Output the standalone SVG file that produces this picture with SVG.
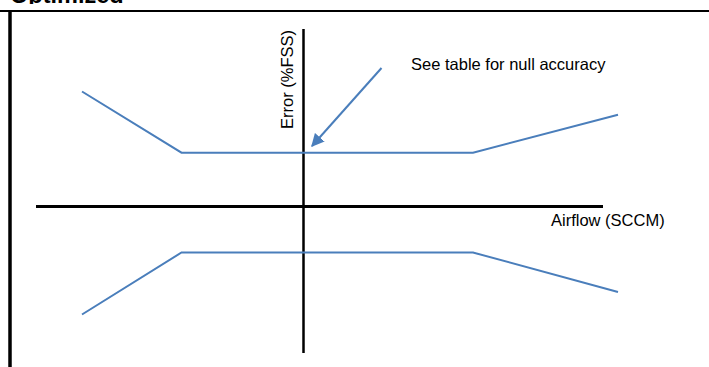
<svg xmlns="http://www.w3.org/2000/svg" width="709" height="367" viewBox="0 0 709 367">
  <style>
    .lbl { font-family: "Liberation Sans", Arial, sans-serif; font-size: 16.5px; fill: #000; }
    .ttl { font-family: "Liberation Sans", Arial, sans-serif; font-size: 23.5px; font-weight: bold; fill: #000; }
    .axis { stroke: #000; fill: none; }
    .curve { stroke: #4a7ebb; stroke-width: 2; fill: none; stroke-linejoin: miter; }
  </style>
  <defs>
    <clipPath id="topclip">
      <rect x="0" y="0" width="709" height="4"/>
    </clipPath>
    <marker id="arrowhead" viewBox="0 0 10 10" refX="9" refY="5" markerWidth="6.5" markerHeight="6.5" orient="auto" markerUnits="strokeWidth">
      <path d="M0,0 L10,5 L0,10 z" fill="#4a7ebb"/>
    </marker>
  </defs>
  <rect width="709" height="367" fill="#fff"/>

  <g id="frame">
    <text class="ttl" x="10" y="3" clip-path="url(#topclip)">Optimized</text>
    <line class="axis" x1="0" y1="11" x2="709" y2="11" stroke-width="2"/>
    <line class="axis" x1="10" y1="10" x2="10" y2="367" stroke-width="3.5"/>
  </g>

  <g id="axes">
    <line class="axis" x1="36" y1="206.5" x2="603" y2="206.5" stroke-width="3"/>
    <line class="axis" x1="303.5" y1="29" x2="303.5" y2="353" stroke-width="2.5"/>
    <text class="lbl" x="551" y="226">Airflow (SCCM)</text>
    <text class="lbl" transform="translate(293,129) rotate(-90)">Error (%FSS)</text>
  </g>

  <g id="upper-limit">
    <polyline class="curve" points="82,91.5 181.5,152.7 473,152.7 618,114.7"/>
  </g>
  <g id="lower-limit">
    <polyline class="curve" points="82,314.5 181.5,252.5 473,252.5 618,292"/>
  </g>

  <g id="connectors">
    <line class="curve" x1="381.5" y1="68" x2="312" y2="146" marker-end="url(#arrowhead)"/>
  </g>
  <g id="note">
    <text class="lbl" x="411" y="70">See table for null accuracy</text>
  </g>
</svg>
